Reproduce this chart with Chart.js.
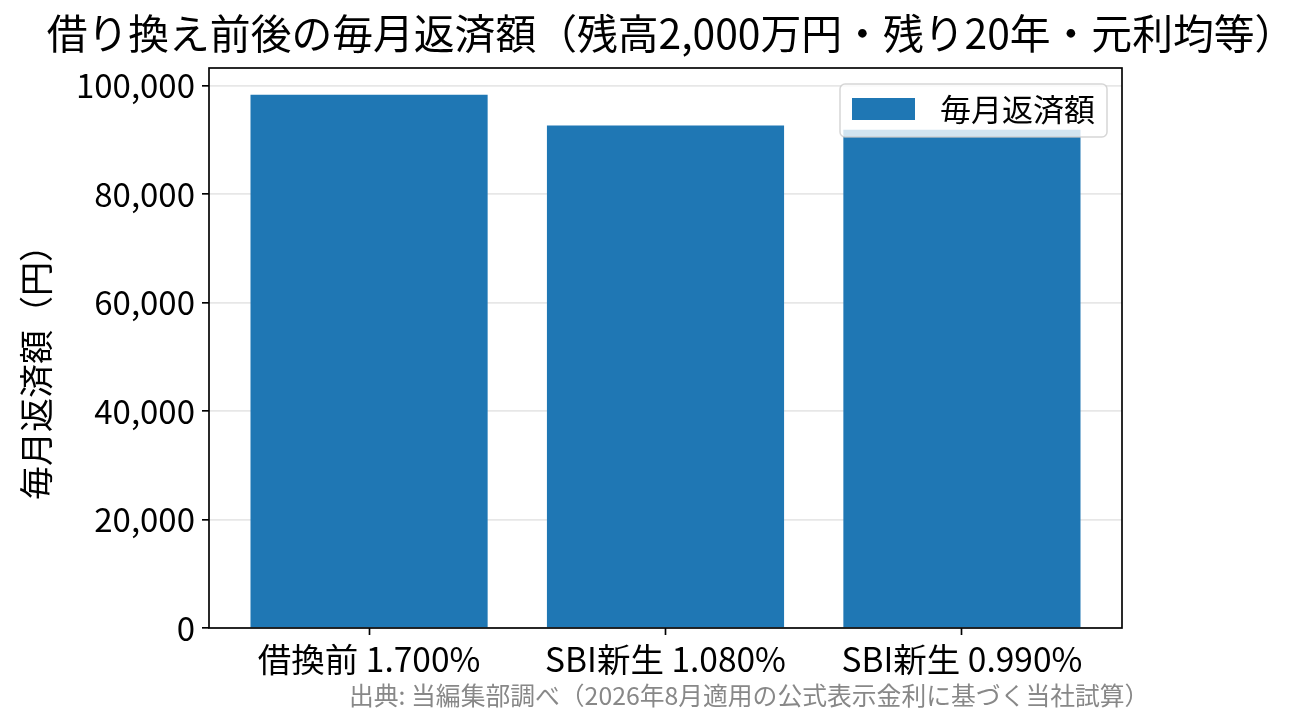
<!DOCTYPE html>
<html lang="ja">
<head>
<meta charset="utf-8">
<title>借り換え前後の毎月返済額</title>
<script src="https://cdn.jsdelivr.net/npm/chart.js@4.4.1/dist/chart.umd.min.js"></script>
<style>
  html, body { margin: 0; padding: 0; background: #fff; }
  canvas { display: block; }
</style>
</head>
<body>
<canvas id="repayChart" width="1303" height="725"></canvas>
<script>
// 借り換え前後のプラン
const planLabels = ['借換前 1.700%', 'SBI新生 1.080%', 'SBI新生 0.990%'];
// 毎月返済額（円）
const monthlyPayments = [98359, 92693, 91886];
// 縦軸の目盛り
const yTickValues = [0, 20000, 40000, 60000, 80000, 100000];
const yMax = 103277;

const seriesName = '毎月返済額';
const titleText = '借り換え前後の毎月返済額（残高2,000万円・残り20年・元利均等）';
const yAxisTitle = '毎月返済額（円）';
const sourceText = '出典: 当編集部調べ（2026年8月適用の公式表示金利に基づく当社試算）';

const FONT = '"Noto Sans CJK JP", "Noto Sans", sans-serif';
const BAR_COLOR = '#1f77b4';
const LW = 1.67;

// タイトル・軸ラベル・凡例・出典・枠線
const decorPlugin = {
    id: 'decor',
    afterDraw(chart) {
        const ctx = chart.ctx;
        const a = chart.chartArea;
        ctx.save();

        // 枠線
        ctx.strokeStyle = '#000';
        ctx.lineWidth = LW;
        ctx.strokeRect(a.left, a.top, a.right - a.left, a.bottom - a.top);

        // 凡例
        const lx = 840, ly = 84, lw = 267, lh = 53;
        ctx.beginPath();
        ctx.roundRect(lx, ly, lw, lh, 5);
        ctx.fillStyle = 'rgba(255,255,255,0.8)';
        ctx.fill();
        ctx.strokeStyle = 'rgba(204,204,204,0.8)';
        ctx.lineWidth = 1.5;
        ctx.stroke();
        ctx.fillStyle = BAR_COLOR;
        ctx.fillRect(852, 98, 63, 22);
        ctx.fillStyle = '#000';
        ctx.font = '31px ' + FONT;
        ctx.textAlign = 'left';
        ctx.textBaseline = 'middle';
        ctx.fillText(seriesName, 940, 109);

        // タイトル
        ctx.font = '40.8px ' + FONT;
        ctx.textAlign = 'center';
        ctx.textBaseline = 'middle';
        ctx.fillText(titleText, 671, 33);

        // 縦軸ラベル
        ctx.save();
        ctx.translate(36, 364);
        ctx.rotate(-Math.PI / 2);
        ctx.font = '34px ' + FONT;
        ctx.fillText(yAxisTitle, 0, 0);
        ctx.restore();

        // 出典
        ctx.font = '24.8px ' + FONT;
        ctx.fillStyle = '#888888';
        ctx.textAlign = 'left';
        ctx.fillText(sourceText, 349, 696);

        ctx.restore();
    }
};

const repayChart = new Chart(document.getElementById('repayChart'), {
    type: 'bar',
    data: {
        datasets: [{
            label: seriesName,
            data: monthlyPayments.map((v, i) => ({ x: i, y: v })),
            backgroundColor: BAR_COLOR,
            borderWidth: 0,
            barPercentage: 0.8,
            categoryPercentage: 1.0
        }]
    },
    options: {
        responsive: false,
        devicePixelRatio: 1,
        animation: false,
        layout: { padding: { top: 68, left: 0, right: 181, bottom: 0 } },
        plugins: {
            legend: { display: false },
            title: { display: false },
            tooltip: { enabled: false }
        },
        scales: {
            x: {
                type: 'linear',
                offset: false,
                min: -0.54,
                max: 2.54,
                afterBuildTicks(scale) {
                    scale.ticks = planLabels.map((_, i) => ({ value: i }));
                },
                afterFit(scale) { scale.height = 97; },
                border: { display: false },
                grid: {
                    offset: false,
                    drawOnChartArea: false,
                    drawTicks: true,
                    tickLength: 7,
                    tickWidth: LW,
                    tickColor: '#000'
                },
                ticks: {
                    autoSkip: false,
                    maxRotation: 0,
                    padding: 4,
                    color: '#000',
                    font: { family: FONT, size: 33.5 },
                    callback: (v) => planLabels[v]
                }
            },
            y: {
                min: 0,
                max: yMax,
                z: 1,
                afterBuildTicks(scale) {
                    scale.ticks = yTickValues.map(v => ({ value: v }));
                },
                afterFit(scale) { scale.width = 209; },
                border: { display: false },
                grid: {
                    color: 'rgba(176,176,176,0.3)',
                    lineWidth: LW,
                    drawTicks: true,
                    tickLength: 7,
                    tickWidth: LW,
                    tickColor: '#000'
                },
                ticks: {
                    padding: 7,
                    color: '#000',
                    font: { family: FONT, size: 33 },
                    callback: (v) => v.toLocaleString('en-US')
                }
            }
        }
    },
    plugins: [decorPlugin]
});
</script>
</body>
</html>
